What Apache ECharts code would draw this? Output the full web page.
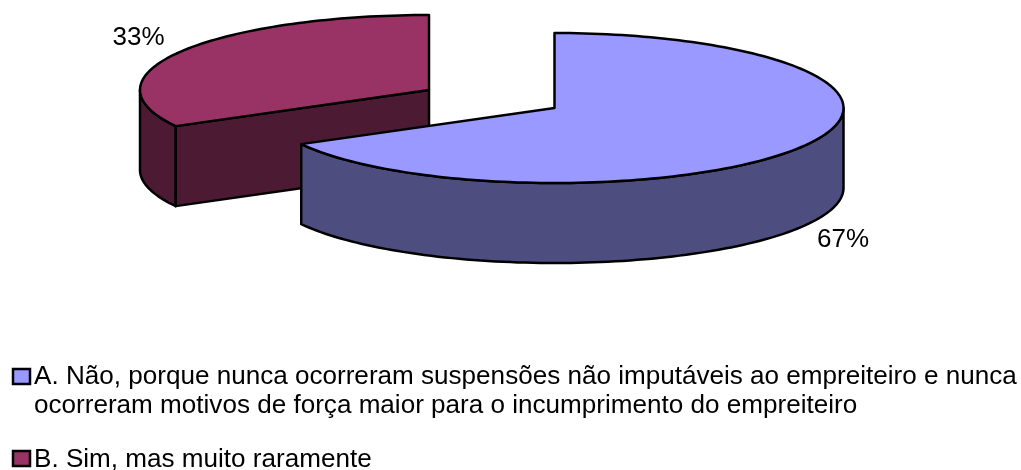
<!DOCTYPE html>
<html>
<head>
<meta charset="utf-8">
<style>
  html, body { margin: 0; padding: 0; background: #fff; }
  #chart { width: 1021px; height: 470px; }
</style>
<script src="https://cdn.jsdelivr.net/npm/echarts@6/dist/echarts.min.js"></script>
</head>
<body>
<div id="chart"></div>
<script>
const categories = [
  'A. Não, porque nunca ocorreram suspensões não imputáveis ao empreiteiro e nunca\nocorreram motivos de força maior para o incumprimento do empreiteiro',
  'B. Sim, mas muito raramente'
];
const sliceValues = [67, 33];

const topColors = ['#9999FF', '#993366'];
const sideColors = ['#4D4D80', '#4D1A33'];
// exploded slice centres, pixels
const centers = [[554.5, 108], [429, 90]];
const labelPos = [[843, 240], [138.5, 38]];
const legendY = [[369, 362], [451, 445]];

const RX = 289, RY = 75, DEPTH = 80;
const total = sliceValues.reduce((a, b) => a + b, 0);
const FONT = '"Liberation Sans", Arial, sans-serif';

// angle is clockwise from 12 o'clock on the flattened disc
function pt(c, deg, dy) {
  const a = deg * Math.PI / 180;
  return [c[0] + RX * Math.sin(a), c[1] - RY * Math.cos(a) + (dy || 0)];
}

function arc(c, from, to, dy) {
  const pts = [];
  const n = Math.max(2, Math.ceil(Math.abs(to - from) / 1.5));
  for (let i = 0; i <= n; i++) pts.push(pt(c, from + (to - from) * i / n, dy));
  return pts;
}

function poly(points, fill) {
  return {
    type: 'polygon',
    shape: { points: points },
    style: { fill: fill, stroke: '#000', lineWidth: 2.5, lineJoin: 'round' }
  };
}

function renderSlice(i) {
  return function (params, api) {
    const start = api.value(0), end = api.value(1);
    const c = centers[i];
    const kids = [];
    // outer wall, only the part that faces the viewer (90..270 deg)
    const a = Math.max(start, 90), b = Math.min(end, 270);
    if (b > a) {
      kids.push(poly(arc(c, a, b, 0).concat(arc(c, b, a, DEPTH)), sideColors[i]));
    }
    // cut face at the slice start, seen only when it turns to the viewer
    if (start > 180) {
      const p = pt(c, start);
      kids.push(poly([c, p, [p[0], p[1] + DEPTH], [c[0], c[1] + DEPTH]], sideColors[i]));
    }
    kids.push(poly([c].concat(arc(c, start, end, 0)), topColors[i]));
    return { type: 'group', children: kids };
  };
}

let acc = 0;
const series = sliceValues.map((v, i) => {
  const start = acc / total * 360;
  acc += v;
  const end = acc / total * 360;
  return {
    type: 'custom',
    name: categories[i],
    coordinateSystem: 'none',
    silent: true,
    z: i === 0 ? 10 : 5,
    renderItem: renderSlice(i),
    data: [[start, end]]
  };
});

const graphic = [];
sliceValues.forEach((v, i) => {
  graphic.push({
    type: 'text',
    x: labelPos[i][0], y: labelPos[i][1],
    z: 30,
    style: {
      text: Math.round(v / total * 100) + '%',
      font: '26px ' + FONT, fill: '#000',
      align: 'center', verticalAlign: 'middle'
    }
  });
  graphic.push({
    type: 'rect',
    z: 30,
    shape: { x: 13, y: legendY[i][0], width: 17, height: 15 },
    style: { fill: topColors[i], stroke: '#000', lineWidth: 2.5 }
  });
  graphic.push({
    type: 'text',
    x: 34, y: legendY[i][1],
    z: 30,
    style: {
      text: categories[i],
      font: '26.08px ' + FONT, fill: '#000',
      lineHeight: 29, align: 'left', verticalAlign: 'top'
    }
  });
});

const chart = echarts.init(document.getElementById('chart'), null, { renderer: 'canvas' });
chart.setOption({
  animation: false,
  backgroundColor: '#fff',
  series: series,
  graphic: graphic
});
</script>
</body>
</html>
